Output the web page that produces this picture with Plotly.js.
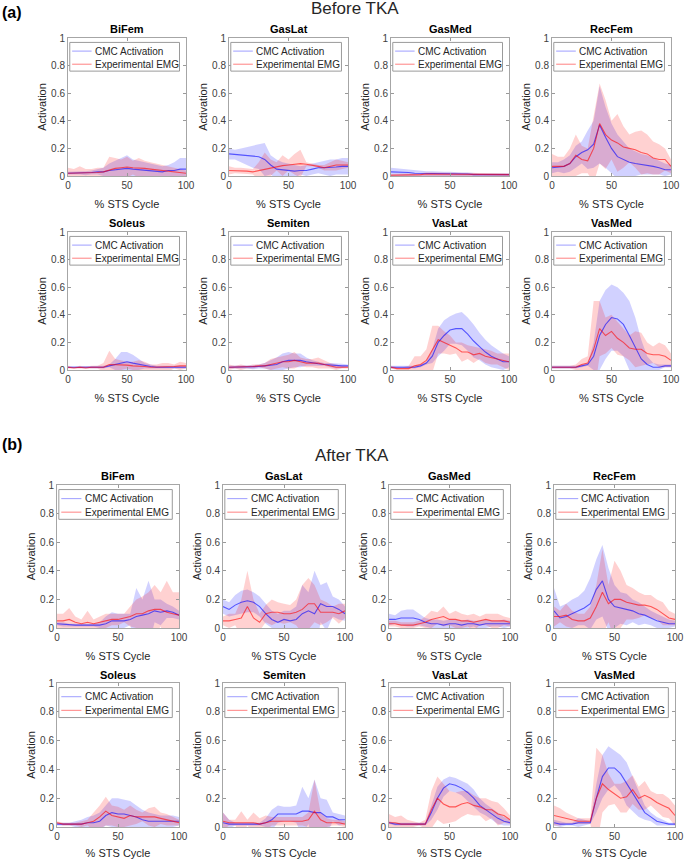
<!DOCTYPE html>
<html>
<head>
<meta charset="utf-8">
<script src="https://cdn.plot.ly/plotly-3.0.1.min.js"></script>
<style>html,body{margin:0;padding:0;background:#fff;}#chart{width:685px;height:859px;}</style>
</head>
<body>
<div id="chart"></div>
<script>
// ---------------- DATA ----------------
const pct = [0,5,10,15,20,25,30,35,40,45,50,55,60,65,70,75,80,85,90,95,100];
const muscles = ['BiFem','GasLat','GasMed','RecFem','Soleus','Semiten','VasLat','VasMed'];
const groupTitles = ['Before TKA','After TKA'];
const groupLabels = ['(a)','(b)'];
const seriesNames = ['CMC Activation','Experimental EMG'];
const yTickVals = [0,0.2,0.4,0.6,0.8,1];
const yTickText = ['0','0.2','0.4','0.6','0.8','1'];
const xTickVals = [0,50,100];

// Before TKA
const pre_BiFem_cmc    = [0.02,0.02,0.02,0.02,0.025,0.03,0.03,0.04,0.045,0.05,0.055,0.05,0.045,0.04,0.04,0.035,0.03,0.04,0.04,0.05,0.05];
const pre_BiFem_cmc_sd = [0.01,0.01,0.01,0.015,0.015,0.02,0.03,0.05,0.065,0.08,0.095,0.07,0.065,0.06,0.05,0.045,0.04,0.04,0.06,0.08,0.08];
const pre_BiFem_emg    = [0.02,0.02,0.02,0.02,0.02,0.025,0.03,0.045,0.055,0.06,0.065,0.06,0.06,0.055,0.05,0.045,0.04,0.035,0.03,0.025,0.02];
const pre_BiFem_emg_sd = [0.04,0.03,0.05,0.03,0.03,0.035,0.03,0.095,0.075,0.06,0.075,0.05,0.07,0.055,0.05,0.045,0.04,0.035,0.03,0.025,0.02];

const pre_GasLat_cmc    = [0.16,0.155,0.15,0.145,0.14,0.14,0.12,0.08,0.05,0.045,0.04,0.035,0.04,0.04,0.05,0.06,0.06,0.06,0.065,0.07,0.07];
const pre_GasLat_cmc_sd = [0.04,0.035,0.05,0.065,0.08,0.09,0.12,0.07,0.07,0.055,0.05,0.045,0.03,0.04,0.04,0.04,0.05,0.06,0.055,0.06,0.06];
const pre_GasLat_emg    = [0.04,0.04,0.04,0.035,0.03,0.04,0.05,0.06,0.07,0.075,0.08,0.085,0.09,0.085,0.08,0.07,0.06,0.07,0.08,0.08,0.08];
const pre_GasLat_emg_sd = [0.03,0.02,0.02,0.02,0.02,0.06,0.12,0.06,0.03,0.075,0.04,0.075,0.1,0.015,0.01,0.01,0.02,0.03,0.04,0.03,0.02];

const pre_GasMed_cmc    = [0.03,0.03,0.025,0.025,0.02,0.02,0.02,0.02,0.015,0.015,0.015,0.015,0.015,0.015,0.01,0.01,0.01,0.01,0.01,0.01,0.01];
const pre_GasMed_cmc_sd = [0.03,0.025,0.025,0.02,0.02,0.02,0.015,0.015,0.015,0.015,0.015,0.01,0.01,0.01,0.01,0.01,0.01,0.01,0.01,0.01,0.01];
const pre_GasMed_emg    = [0.005,0.005,0.005,0.01,0.01,0.01,0.015,0.015,0.015,0.015,0.015,0.015,0.01,0.015,0.01,0.015,0.015,0.015,0.015,0.01,0.01];
const pre_GasMed_emg_sd = [0.01,0.01,0.01,0.01,0.01,0.01,0.01,0.01,0.01,0.01,0.01,0.01,0.01,0.01,0.01,0.01,0.01,0.01,0.01,0.01,0.01];

const pre_RecFem_cmc    = [0.06,0.065,0.07,0.09,0.14,0.17,0.19,0.23,0.37,0.28,0.2,0.14,0.12,0.1,0.09,0.085,0.08,0.07,0.06,0.045,0.045];
const pre_RecFem_cmc_sd = [0.04,0.035,0.05,0.06,0.08,0.08,0.14,0.17,0.28,0.22,0.18,0.16,0.13,0.1,0.09,0.075,0.07,0.06,0.05,0.045,0.035];
const pre_RecFem_emg    = [0.07,0.07,0.07,0.09,0.15,0.12,0.11,0.2,0.38,0.3,0.26,0.24,0.21,0.2,0.19,0.17,0.16,0.13,0.12,0.12,0.07];
const pre_RecFem_emg_sd = [0.09,0.07,0.07,0.11,0.15,0.1,0.09,0.25,0.29,0.25,0.14,0.21,0.15,0.1,0.13,0.16,0.14,0.12,0.11,0.08,0.05];

const pre_Soleus_cmc    = [0.02,0.02,0.02,0.02,0.02,0.02,0.02,0.03,0.04,0.055,0.06,0.05,0.04,0.03,0.025,0.02,0.02,0.02,0.02,0.02,0.02];
const pre_Soleus_cmc_sd = [0.005,0.005,0.005,0.005,0.01,0.01,0.01,0.01,0.04,0.075,0.07,0.06,0.04,0.02,0.015,0.01,0.01,0.01,0.01,0.01,0.01];
const pre_Soleus_emg    = [0.02,0.015,0.02,0.015,0.02,0.02,0.02,0.04,0.04,0.035,0.035,0.03,0.03,0.025,0.02,0.02,0.02,0.02,0.025,0.03,0.03];
const pre_Soleus_emg_sd = [0.01,0.005,0.01,0.01,0.01,0.01,0.03,0.1,0.04,0.035,0.025,0.03,0.04,0.035,0.02,0.02,0.03,0.03,0.015,0.03,0.02];

const pre_Semiten_cmc    = [0.02,0.02,0.02,0.02,0.02,0.025,0.03,0.035,0.04,0.06,0.07,0.07,0.07,0.06,0.05,0.045,0.04,0.035,0.03,0.03,0.03];
const pre_Semiten_cmc_sd = [0.01,0.01,0.01,0.01,0.015,0.015,0.02,0.035,0.05,0.06,0.06,0.05,0.05,0.03,0.02,0.015,0.01,0.015,0.02,0.015,0.01];
const pre_Semiten_emg    = [0.02,0.02,0.02,0.02,0.025,0.03,0.03,0.04,0.05,0.06,0.06,0.07,0.06,0.05,0.05,0.05,0.04,0.03,0.02,0.02,0.02];
const pre_Semiten_emg_sd = [0.02,0.01,0.02,0.01,0.015,0.01,0.02,0.04,0.04,0.04,0.05,0.06,0.03,0.03,0.03,0.04,0.03,0.02,0.02,0.01,0.01];

const pre_VasLat_cmc    = [0.02,0.02,0.02,0.02,0.02,0.03,0.05,0.1,0.2,0.25,0.29,0.3,0.3,0.26,0.21,0.17,0.13,0.1,0.08,0.06,0.06];
const pre_VasLat_cmc_sd = [0.01,0.01,0.01,0.01,0.01,0.01,0.01,0.05,0.1,0.11,0.1,0.11,0.12,0.12,0.12,0.1,0.09,0.08,0.07,0.06,0.04];
const pre_VasLat_emg    = [0.02,0.01,0.01,0.01,0.03,0.04,0.07,0.15,0.22,0.2,0.18,0.16,0.13,0.13,0.11,0.12,0.1,0.09,0.08,0.07,0.06];
const pre_VasLat_emg_sd = [0.01,0.01,0.01,0.02,0.07,0.06,0.08,0.17,0.1,0.08,0.07,0.04,0.07,0.05,0.06,0.04,0.05,0.05,0.04,0.05,0.06];

const pre_VasMed_cmc    = [0.02,0.02,0.02,0.02,0.02,0.03,0.04,0.1,0.25,0.33,0.38,0.37,0.33,0.25,0.16,0.08,0.04,0.02,0.02,0.03,0.03];
const pre_VasMed_cmc_sd = [0.01,0.01,0.01,0.01,0.01,0.01,0.01,0.1,0.25,0.25,0.24,0.23,0.23,0.25,0.22,0.14,0.06,0.03,0.02,0.01,0.01];
const pre_VasMed_emg    = [0.02,0.02,0.02,0.02,0.02,0.04,0.05,0.15,0.3,0.25,0.28,0.23,0.2,0.16,0.15,0.15,0.12,0.11,0.11,0.1,0.07];
const pre_VasMed_emg_sd = [0.01,0.01,0.01,0.01,0.02,0.04,0.05,0.35,0.2,0.13,0.12,0.12,0.1,0.09,0.13,0.12,0.08,0.06,0.09,0.08,0.05];

// After TKA
const post_BiFem_cmc    = [0.03,0.025,0.02,0.02,0.02,0.02,0.02,0.02,0.03,0.05,0.05,0.05,0.06,0.08,0.09,0.1,0.12,0.11,0.12,0.11,0.09];
const post_BiFem_cmc_sd = [0.01,0.015,0.01,0.01,0.01,0.01,0.01,0.02,0.05,0.06,0.05,0.05,0.04,0.2,0.11,0.23,0.08,0.09,0.05,0.04,0.03];
const post_BiFem_emg    = [0.05,0.05,0.06,0.04,0.03,0.04,0.03,0.04,0.05,0.06,0.06,0.07,0.08,0.1,0.1,0.12,0.13,0.13,0.11,0.1,0.09];
const post_BiFem_emg_sd = [0.05,0.05,0.08,0.04,0.03,0.08,0.03,0.04,0.05,0.04,0.04,0.03,0.07,0.1,0.12,0.13,0.17,0.12,0.22,0.15,0.16];

const post_GasLat_cmc    = [0.15,0.13,0.16,0.18,0.19,0.18,0.15,0.1,0.06,0.04,0.06,0.05,0.06,0.1,0.12,0.1,0.17,0.15,0.15,0.13,0.1];
const post_GasLat_cmc_sd = [0.05,0.05,0.07,0.08,0.08,0.07,0.07,0.07,0.06,0.06,0.06,0.07,0.09,0.2,0.13,0.3,0.13,0.17,0.07,0.07,0.05];
const post_GasLat_emg    = [0.05,0.05,0.06,0.07,0.15,0.07,0.04,0.1,0.11,0.11,0.1,0.1,0.11,0.13,0.17,0.17,0.11,0.11,0.11,0.1,0.12];
const post_GasLat_emg_sd = [0.03,0.05,0.04,0.13,0.25,0.13,0.06,0.06,0.09,0.07,0.07,0.06,0.09,0.17,0.18,0.13,0.09,0.07,0.04,0.07,0.05];

const post_GasMed_cmc    = [0.06,0.06,0.07,0.07,0.07,0.06,0.04,0.03,0.03,0.02,0.03,0.03,0.02,0.03,0.03,0.02,0.03,0.03,0.03,0.03,0.03];
const post_GasMed_cmc_sd = [0.04,0.03,0.05,0.06,0.06,0.04,0.03,0.03,0.03,0.03,0.03,0.03,0.03,0.03,0.02,0.03,0.03,0.02,0.02,0.03,0.02];
const post_GasMed_emg    = [0.03,0.03,0.02,0.02,0.02,0.03,0.04,0.06,0.07,0.08,0.06,0.06,0.05,0.05,0.04,0.05,0.06,0.05,0.05,0.05,0.04];
const post_GasMed_emg_sd = [0.02,0.02,0.02,0.02,0.02,0.02,0.04,0.06,0.04,0.07,0.04,0.06,0.05,0.04,0.06,0.03,0.04,0.05,0.05,0.03,0.03];

const post_RecFem_cmc    = [0.12,0.07,0.08,0.1,0.12,0.14,0.17,0.27,0.33,0.2,0.15,0.14,0.13,0.12,0.1,0.09,0.07,0.05,0.04,0.03,0.03];
const post_RecFem_cmc_sd = [0.16,0.08,0.09,0.1,0.1,0.12,0.18,0.21,0.25,0.22,0.15,0.11,0.11,0.08,0.08,0.06,0.05,0.05,0.04,0.03,0.02];
const post_RecFem_emg    = [0.08,0.08,0.09,0.06,0.05,0.05,0.07,0.15,0.25,0.17,0.2,0.2,0.18,0.17,0.16,0.16,0.15,0.13,0.1,0.07,0.06];
const post_RecFem_emg_sd = [0.07,0.04,0.08,0.06,0.05,0.05,0.08,0.15,0.3,0.13,0.27,0.2,0.12,0.11,0.09,0.07,0.08,0.07,0.08,0.05,0.04];

const post_Soleus_cmc    = [0.02,0.02,0.02,0.02,0.02,0.03,0.03,0.04,0.08,0.1,0.09,0.09,0.08,0.07,0.05,0.04,0.04,0.04,0.04,0.04,0.04];
const post_Soleus_cmc_sd = [0.01,0.01,0.01,0.02,0.03,0.04,0.05,0.06,0.07,0.1,0.11,0.1,0.1,0.08,0.07,0.06,0.05,0.04,0.04,0.04,0.03];
const post_Soleus_emg    = [0.03,0.02,0.02,0.02,0.02,0.03,0.04,0.07,0.11,0.08,0.07,0.06,0.08,0.07,0.07,0.07,0.07,0.06,0.05,0.04,0.03];
const post_Soleus_emg_sd = [0.01,0.01,0.01,0.01,0.02,0.02,0.06,0.08,0.1,0.07,0.07,0.06,0.07,0.05,0.03,0.06,0.07,0.04,0.04,0.03,0.02];

const post_Semiten_cmc    = [0.03,0.02,0.02,0.02,0.02,0.02,0.02,0.03,0.05,0.09,0.09,0.09,0.09,0.11,0.11,0.1,0.1,0.07,0.07,0.05,0.05];
const post_Semiten_cmc_sd = [0.07,0.03,0.01,0.01,0.01,0.01,0.01,0.03,0.07,0.06,0.05,0.05,0.06,0.17,0.09,0.23,0.1,0.12,0.03,0.04,0.03];
const post_Semiten_emg    = [0.04,0.03,0.03,0.03,0.03,0.03,0.02,0.03,0.04,0.04,0.04,0.04,0.04,0.04,0.05,0.11,0.05,0.03,0.03,0.03,0.02];
const post_Semiten_emg_sd = [0.06,0.02,0.02,0.08,0.02,0.07,0.04,0.05,0.03,0.03,0.03,0.03,0.03,0.03,0.05,0.22,0.05,0.03,0.02,0.02,0.02];

const post_VasLat_cmc    = [0.03,0.02,0.02,0.02,0.02,0.02,0.02,0.1,0.2,0.27,0.3,0.29,0.27,0.24,0.2,0.15,0.12,0.09,0.06,0.04,0.03];
const post_VasLat_cmc_sd = [0.01,0.01,0.01,0.01,0.01,0.01,0.01,0.05,0.08,0.06,0.05,0.05,0.05,0.06,0.06,0.05,0.04,0.04,0.04,0.03,0.02];
const post_VasLat_emg    = [0.03,0.03,0.02,0.02,0.02,0.02,0.02,0.12,0.2,0.16,0.14,0.14,0.16,0.17,0.15,0.14,0.12,0.12,0.09,0.08,0.05];
const post_VasLat_emg_sd = [0.06,0.04,0.06,0.03,0.02,0.01,0.03,0.13,0.15,0.14,0.11,0.1,0.09,0.08,0.07,0.06,0.08,0.06,0.08,0.05,0.03];

const post_VasMed_cmc    = [0.03,0.02,0.02,0.02,0.03,0.03,0.03,0.2,0.35,0.41,0.41,0.37,0.3,0.23,0.16,0.1,0.07,0.04,0.03,0.02,0.02];
const post_VasMed_cmc_sd = [0.02,0.02,0.01,0.01,0.03,0.02,0.01,0.1,0.15,0.15,0.12,0.13,0.15,0.12,0.09,0.05,0.03,0.03,0.02,0.01,0.01];
const post_VasMed_emg    = [0.08,0.07,0.06,0.05,0.04,0.04,0.04,0.2,0.3,0.26,0.23,0.2,0.21,0.26,0.2,0.22,0.2,0.17,0.15,0.13,0.08];
const post_VasMed_emg_sd = [0.07,0.06,0.04,0.03,0.02,0.02,0.02,0.35,0.2,0.11,0.07,0.1,0.11,0.1,0.08,0.1,0.05,0.06,0.08,0.07,0.07];

// table built from the arrays above
const table = {
  pre: {
    BiFem:[pre_BiFem_cmc,pre_BiFem_cmc_sd,pre_BiFem_emg,pre_BiFem_emg_sd],
    GasLat:[pre_GasLat_cmc,pre_GasLat_cmc_sd,pre_GasLat_emg,pre_GasLat_emg_sd],
    GasMed:[pre_GasMed_cmc,pre_GasMed_cmc_sd,pre_GasMed_emg,pre_GasMed_emg_sd],
    RecFem:[pre_RecFem_cmc,pre_RecFem_cmc_sd,pre_RecFem_emg,pre_RecFem_emg_sd],
    Soleus:[pre_Soleus_cmc,pre_Soleus_cmc_sd,pre_Soleus_emg,pre_Soleus_emg_sd],
    Semiten:[pre_Semiten_cmc,pre_Semiten_cmc_sd,pre_Semiten_emg,pre_Semiten_emg_sd],
    VasLat:[pre_VasLat_cmc,pre_VasLat_cmc_sd,pre_VasLat_emg,pre_VasLat_emg_sd],
    VasMed:[pre_VasMed_cmc,pre_VasMed_cmc_sd,pre_VasMed_emg,pre_VasMed_emg_sd]
  },
  post: {
    BiFem:[post_BiFem_cmc,post_BiFem_cmc_sd,post_BiFem_emg,post_BiFem_emg_sd],
    GasLat:[post_GasLat_cmc,post_GasLat_cmc_sd,post_GasLat_emg,post_GasLat_emg_sd],
    GasMed:[post_GasMed_cmc,post_GasMed_cmc_sd,post_GasMed_emg,post_GasMed_emg_sd],
    RecFem:[post_RecFem_cmc,post_RecFem_cmc_sd,post_RecFem_emg,post_RecFem_emg_sd],
    Soleus:[post_Soleus_cmc,post_Soleus_cmc_sd,post_Soleus_emg,post_Soleus_emg_sd],
    Semiten:[post_Semiten_cmc,post_Semiten_cmc_sd,post_Semiten_emg,post_Semiten_emg_sd],
    VasLat:[post_VasLat_cmc,post_VasLat_cmc_sd,post_VasLat_emg,post_VasLat_emg_sd],
    VasMed:[post_VasMed_cmc,post_VasMed_cmc_sd,post_VasMed_emg,post_VasMed_emg_sd]
  }
};

// ---------------- LAYOUT ----------------
const W = 685, H = 859;
const FONT = 'Liberation Sans, Arial, Helvetica, sans-serif';
const rowsPx = [[38,176],[232,370],[485,628],[683,827]];
const colsPx = [
  [[68,186],[229,348],[391,509],[552,671]],
  [[57,179],[223,345],[389,510],[554,675]]
];
const subTitleY = [29,223,476,675];
const groupTitleX = [355,352];
const groupTitleY = [8,455];
const groupLabelY = [12,445];

const lineColors = ['rgba(0,0,255,0.6)','rgba(255,0,0,0.6)'];
const fillColors = ['rgba(0,0,255,0.18)','rgba(255,0,0,0.18)'];
const legendLineColors = ['rgba(0,0,255,0.35)','rgba(255,0,0,0.45)'];

const traces = [];
const layout = {
  width: W, height: H,
  margin: {l:0,r:0,t:0,b:0},
  paper_bgcolor: '#ffffff', plot_bgcolor: '#ffffff',
  showlegend: false,
  font: {family: FONT, size: 10, color: '#262626'},
  annotations: [], shapes: []
};

['pre','post'].forEach((grp, g) => {
  layout.annotations.push({
    text: groupTitles[g], xref:'paper', yref:'paper', x: groupTitleX[g]/W, y: 1 - groupTitleY[g]/H,
    xanchor:'center', yanchor:'middle', showarrow:false,
    font:{family:FONT, size:17, color:'#262626'}
  });
  layout.annotations.push({
    text: '<b>' + groupLabels[g] + '</b>', xref:'paper', yref:'paper', x: 0, y: 1 - groupLabelY[g]/H,
    xanchor:'left', yanchor:'middle', showarrow:false,
    font:{family:FONT, size:16, color:'#000000'}
  });
  muscles.forEach((m, k) => {
    const r = g*2 + Math.floor(k/4);
    const c = k % 4;
    const n = g*8 + k + 1;
    const xa = 'x' + n, ya = 'y' + n;
    const [top, bot] = rowsPx[r];
    const [lft, rgt] = colsPx[g][c];
    const d = table[grp][m];
    for (let s = 0; s < 2; s++) {
      const mean = d[s*2], sd = d[s*2+1];
      const upper = mean.map((v,i) => v + sd[i]);
      const lower = mean.map((v,i) => v - sd[i]);
      traces.push({
        type:'scatter', mode:'lines', xaxis:xa, yaxis:ya,
        x: pct.concat(pct.slice().reverse()),
        y: upper.concat(lower.slice().reverse()),
        fill:'toself', fillcolor: fillColors[s], line:{width:0, color:'rgba(0,0,0,0)'},
        hoverinfo:'skip', showlegend:false
      });
    }
    for (let s = 0; s < 2; s++) {
      traces.push({
        type:'scatter', mode:'lines', xaxis:xa, yaxis:ya,
        x: pct, y: d[s*2], name: seriesNames[s],
        line:{color: lineColors[s], width:1.1}, showlegend:false
      });
    }
    const axKey = n === 1 ? '' : String(n);
    layout['xaxis' + axKey] = {
      domain:[lft/W, rgt/W], anchor: ya, range:[0,100],
      tickvals: xTickVals, ticks:'inside', ticklen:3, tickcolor:'#999',
      showline:true, linecolor:'#a6a6a6', linewidth:1, mirror:'allticks',
      showgrid:false, zeroline:false, fixedrange:true,
      tickfont:{family:FONT, size:10, color:'#404040'},
      title:{text:'% STS Cycle', font:{family:FONT, size:11, color:'#262626'}, standoff:10}
    };
    layout['yaxis' + axKey] = {
      domain:[1 - bot/H, 1 - top/H], anchor: xa, range:[0,1],
      tickvals: yTickVals, ticktext: yTickText, ticks:'inside', ticklen:3, tickcolor:'#999',
      showline:true, linecolor:'#a6a6a6', linewidth:1, mirror:'allticks',
      showgrid:false, zeroline:false, fixedrange:true,
      tickfont:{family:FONT, size:10, color:'#404040'},
      title:{text:'Activation', font:{family:FONT, size:11, color:'#262626'}, standoff:2}
    };
    // subplot title
    layout.annotations.push({
      text:'<b>' + m + '</b>', xref:'paper', yref:'paper',
      x: (lft+rgt)/2/W, y: 1 - subTitleY[r]/H, xanchor:'center', yanchor:'middle',
      showarrow:false, font:{family:FONT, size:11, color:'#000000'}
    });
    // legend box
    const xr = xa + ' domain', yr = ya + ' domain';
    layout.shapes.push({
      type:'rect', xref:xr, yref:yr, x0:0.015, x1:0.945, y0:0.76, y1:0.968,
      line:{color:'#9a9a9a', width:1}, fillcolor:'#ffffff', layer:'above'
    });
    const ly = [0.905, 0.81];
    for (let s = 0; s < 2; s++) {
      layout.shapes.push({
        type:'line', xref:xr, yref:yr, x0:0.035, x1:0.2, y0:ly[s], y1:ly[s],
        line:{color: legendLineColors[s], width:1.1}, layer:'above'
      });
      layout.annotations.push({
        text: seriesNames[s], xref:xr, yref:yr, x:0.21, y:ly[s],
        xanchor:'left', yanchor:'middle', showarrow:false,
        font:{family:FONT, size:10, color:'#262626'}
      });
    }
  });
});

Plotly.newPlot('chart', traces, layout, {staticPlot:true, displayModeBar:false});
</script>
</body>
</html>
